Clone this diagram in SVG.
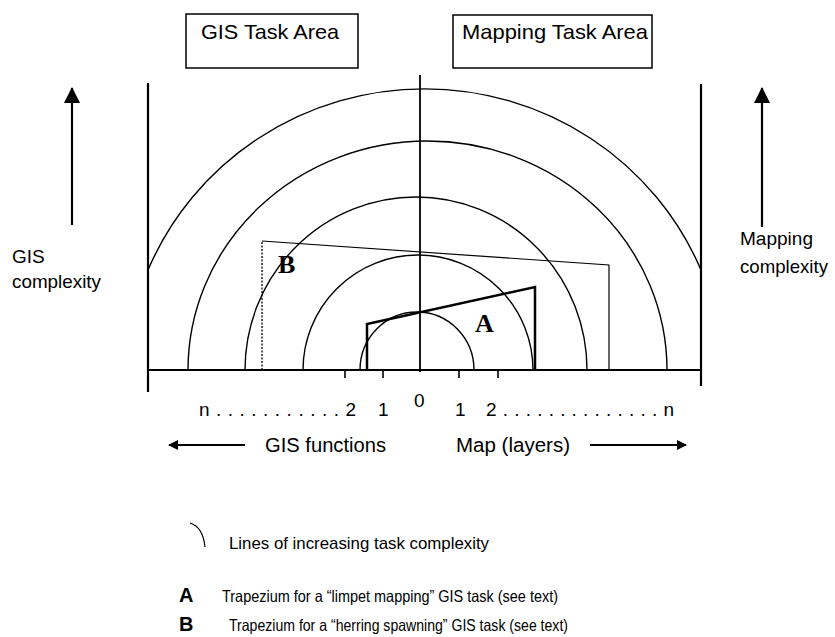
<svg xmlns="http://www.w3.org/2000/svg" width="835" height="637" viewBox="0 0 835 637">
<defs>
<style>
.t{font-family:"Liberation Sans",Arial,sans-serif;fill:#000}
.ln{stroke:#000;fill:none}
.arc{stroke:#000;fill:none;stroke-width:1.4}
.big{font-family:"Liberation Serif","Times New Roman",serif;font-weight:bold;fill:#000}
</style>
<marker id="ah" viewBox="0 0 10 10" refX="9" refY="5" markerWidth="10" markerHeight="10" markerUnits="userSpaceOnUse" orient="auto"><path d="M0,0 L10,5 L0,10 z" fill="#000"/></marker>
<marker id="ahv" viewBox="0 0 16 16" refX="15" refY="8" markerWidth="16" markerHeight="16" markerUnits="userSpaceOnUse" orient="auto"><path d="M0,0 L16,8 L0,16 z" fill="#000"/></marker>
</defs>
<rect width="835" height="637" fill="#fff"/>

<g id="gis-task-area">
<rect x="186" y="14" width="172" height="54" class="ln" stroke-width="1.5"/>
<text x="201" y="39" class="t" font-size="21" textLength="138" lengthAdjust="spacingAndGlyphs">GIS Task Area</text>
</g>
<g id="mapping-task-area">
<rect x="453" y="15" width="199" height="53" class="ln" stroke-width="1.5"/>
<text x="462" y="39" class="t" font-size="21" textLength="186" lengthAdjust="spacingAndGlyphs">Mapping Task Area</text>
</g>

<g id="gis-complexity">
<line x1="72" y1="225" x2="72" y2="88" class="ln" stroke-width="2.2" marker-end="url(#ahv)"/>
<text x="12" y="263" class="t" font-size="19">GIS</text>
<text x="12" y="288" class="t" font-size="19" textLength="89" lengthAdjust="spacingAndGlyphs">complexity</text>
</g>
<g id="mapping-complexity">
<line x1="762" y1="227" x2="762" y2="88" class="ln" stroke-width="2.2" marker-end="url(#ahv)"/>
<text x="740" y="245" class="t" font-size="19" textLength="73" lengthAdjust="spacingAndGlyphs">Mapping</text>
<text x="740" y="273" class="t" font-size="19" textLength="88" lengthAdjust="spacingAndGlyphs">complexity</text>
</g>

<g id="complexity-arcs">
<path d="M360,370 A57,58 0 0 1 474,370" class="arc"/>
<path d="M303,370 A115,115 0 0 1 533,370" class="arc"/>
<path d="M245,370 A171,173 0 0 1 587,370" class="arc"/>
<path d="M188,370 A239.5,229 0 0 1 667,370" class="arc"/>
<path d="M148,270 A300,296 0 0 1 701,270" class="arc"/>
</g>

<g id="axes">
<line x1="148" y1="83" x2="148" y2="392" class="ln" stroke-width="2.2"/>
<line x1="701" y1="84" x2="701" y2="386" class="ln" stroke-width="2.2"/>
<line x1="148" y1="370" x2="701" y2="370" class="ln" stroke-width="2.2"/>
<line x1="420" y1="75" x2="420" y2="372" class="ln" stroke-width="1.8"/>
<line x1="345" y1="370" x2="345" y2="378" class="ln" stroke-width="1.6"/>
<line x1="383" y1="370" x2="383" y2="378" class="ln" stroke-width="1.6"/>
<line x1="459" y1="370" x2="459" y2="378" class="ln" stroke-width="1.6"/>
<line x1="498" y1="370" x2="498" y2="378" class="ln" stroke-width="1.6"/>
</g>

<g id="trapezium-b">
<line x1="262" y1="370" x2="262" y2="241" class="ln" stroke-width="1.3" stroke-dasharray="2,1.5"/>
<polyline points="262,241 609,265 609,370" class="ln" stroke-width="1.2"/>
<text x="278" y="273" class="big" font-size="26">B</text>
</g>
<g id="trapezium-a">
<polyline points="367,370 367,324 535,287 535,370" class="ln" stroke-width="2.5" stroke-linejoin="miter"/>
<text x="475" y="332" class="big" font-size="26">A</text>
</g>

<g id="scale-labels">
<text x="199" y="416" class="t" font-size="19" textLength="157" lengthAdjust="spacing">n...........2</text>
<text x="378" y="416" class="t" font-size="19">1</text>
<text x="414" y="407" class="t" font-size="19">0</text>
<text x="455" y="416" class="t" font-size="19">1</text>
<text x="486" y="416" class="t" font-size="19" textLength="188" lengthAdjust="spacing">2..............n</text>
</g>

<g id="direction-labels">
<line x1="245" y1="445" x2="169" y2="445" class="ln" stroke-width="1.8" marker-end="url(#ah)"/>
<text x="265" y="452" class="t" font-size="20" textLength="121" lengthAdjust="spacingAndGlyphs">GIS functions</text>
<text x="456" y="452" class="t" font-size="20" textLength="114" lengthAdjust="spacingAndGlyphs">Map (layers)</text>
<line x1="590" y1="445" x2="686" y2="445" class="ln" stroke-width="1.8" marker-end="url(#ah)"/>
</g>

<g id="legend">
<path d="M190,523 Q203,527 205,547" class="ln" stroke-width="1.2"/>
<text x="229" y="549" class="t" font-size="17" textLength="260" lengthAdjust="spacingAndGlyphs">Lines of increasing task complexity</text>
<text x="179" y="602" class="t" font-size="20" font-weight="bold">A</text>
<text x="222" y="602" class="t" font-size="16.5" textLength="336" lengthAdjust="spacingAndGlyphs">Trapezium for a “limpet mapping” GIS task (see text)</text>
<text x="179" y="631" class="t" font-size="20" font-weight="bold">B</text>
<text x="229" y="631" class="t" font-size="16.5" textLength="339" lengthAdjust="spacingAndGlyphs">Trapezium for a “herring spawning” GIS task (see text)</text>
</g>
</svg>
